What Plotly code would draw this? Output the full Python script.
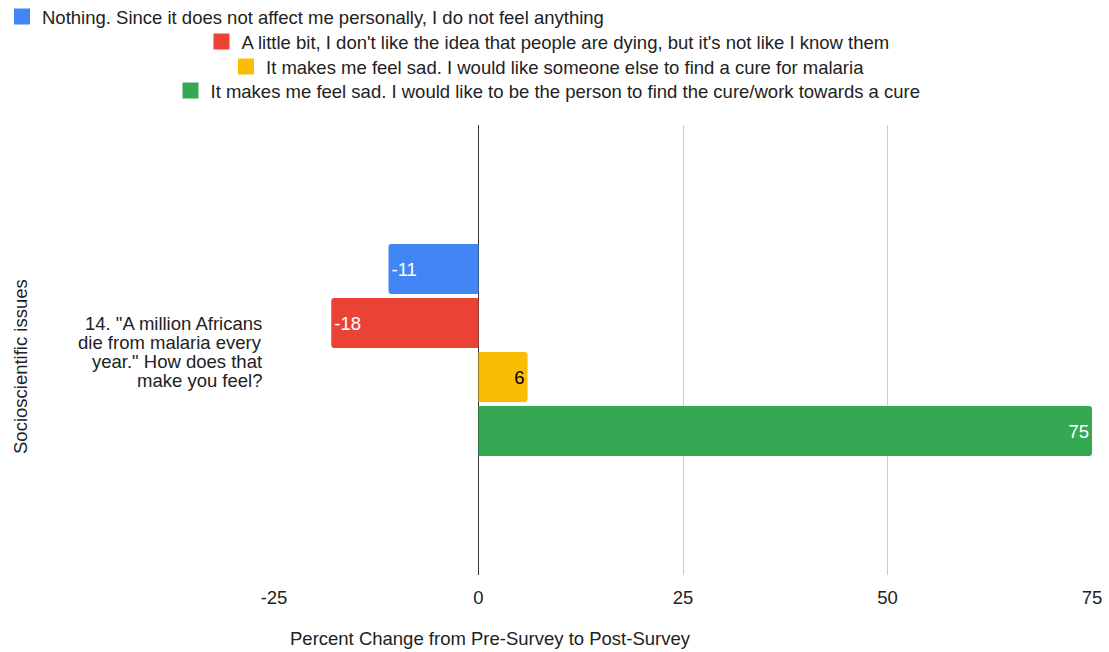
import plotly.graph_objects as go

categories = ['14. "A million Africans<br>die from malaria every<br>year." How does that<br>make you feel?']
series_names = [
    "Nothing. Since it does not affect me personally, I do not feel anything",
    "A little bit, I don't like the idea that people are dying, but it's not like I know them",
    "It makes me feel sad. I would like someone else to find a cure for malaria",
    "It makes me feel sad. I would like to be the person to find the cure/work towards a cure",
]
series_values = [[-11], [-18], [6], [75]]
series_colors = ["#4285F4", "#EA4335", "#FBBC04", "#34A853"]
label_colors = ["white", "white", "black", "white"]
tick_values = [-25, 0, 25, 50, 75]

W, H = 1109, 652
ML, MR, MT, MB = 274, 17, 125, 77
PW, PH = W - ML - MR, H - MT - MB

def px_x(p):
    return (p - ML) / PW

def px_y(p):
    return (H - MB - p) / PH

FONT = "Liberation Sans, Arial, sans-serif"
FS = 18.5
INK = "#222222"

fig = go.Figure()
legend_ids = ["legend", "legend2", "legend3", "legend4"]
for name, vals, col, lc in zip(series_names, series_values, series_colors, label_colors):
    fig.add_trace(go.Bar(
        y=categories, x=vals, orientation="h", name=name,
        marker=dict(color=col, cornerradius=3, line=dict(width=0)),
        text=[str(v) for v in vals], textposition="inside", insidetextanchor="end",
        textfont=dict(color=lc, size=FS, family=FONT),
        showlegend=False,
    ))

# legend entries with larger square swatches, one legend per row
for name, col, lg in zip(series_names, series_colors, legend_ids):
    fig.add_trace(go.Scatter(
        x=[None], y=[None], mode="markers", name=name,
        marker=dict(symbol="square", size=16, color=col),
        legend=lg, showlegend=True, hoverinfo="skip",
    ))

# first row left-aligned, the others centred
legend_rows = [(2, 17, "left"), (548, 42, "center"), (548, 67, "center"), (548, 91, "center")]
legend_layout = {}
for lg, (lx, ly, anchor) in zip(legend_ids, legend_rows):
    legend_layout[lg] = dict(
        x=lx / W, y=1 - ly / H, xanchor=anchor, yanchor="middle",
        xref="container", yref="container",
        font=dict(size=FS, family=FONT, color=INK),
        bgcolor="rgba(0,0,0,0)", itemclick=False, visible=True,
    )

# category label drawn line by line with tight leading, right-aligned beside the axis
cat_lines = categories[0].split("<br>")
LEAD = 19
cat_annotations = []
for i, line in enumerate(cat_lines):
    cat_annotations.append(dict(
        text=line, xref="paper", yref="y", x=px_x(264), y=categories[0],
        xanchor="right", yanchor="middle", showarrow=False,
        yshift=((len(cat_lines) - 1) / 2 - i) * LEAD - 1.5,
        font=dict(size=FS, family=FONT, color=INK),
    ))

fig.update_layout(
    width=W, height=H,
    showlegend=True,
    margin=dict(l=ML, r=MR, t=MT, b=MB, autoexpand=False),
    paper_bgcolor="white", plot_bgcolor="white",
    barmode="group", bargap=0.52, bargroupgap=0.07,
    font=dict(family=FONT, size=FS, color=INK),
    xaxis=dict(
        range=[-25, 75], tickvals=tick_values, ticktext=[str(t) for t in tick_values],
        showgrid=True, gridcolor="#cccccc", gridwidth=1,
        zeroline=True, zerolinecolor="#333333", zerolinewidth=1,
        showline=False, ticks="", ticklabelstandoff=9,
        tickfont=dict(size=FS, family=FONT, color=INK),
    ),
    yaxis=dict(
        autorange="reversed", showgrid=False, zeroline=False, showline=False,
        ticks="", showticklabels=False,
    ),
    annotations=cat_annotations + [
        dict(text="Percent Change from Pre-Survey to Post-Survey", xref="paper", yref="paper",
             x=px_x(490), y=px_y(638), xanchor="center", yanchor="middle", showarrow=False,
             font=dict(size=FS, family=FONT, color=INK)),
        dict(text="Socioscientific issues", xref="paper", yref="paper",
             x=px_x(20), y=px_y(367), xanchor="center", yanchor="middle", showarrow=False,
             textangle=-90, font=dict(size=FS, family=FONT, color=INK)),
    ],
    **legend_layout,
)

fig.write_html("out.html")
